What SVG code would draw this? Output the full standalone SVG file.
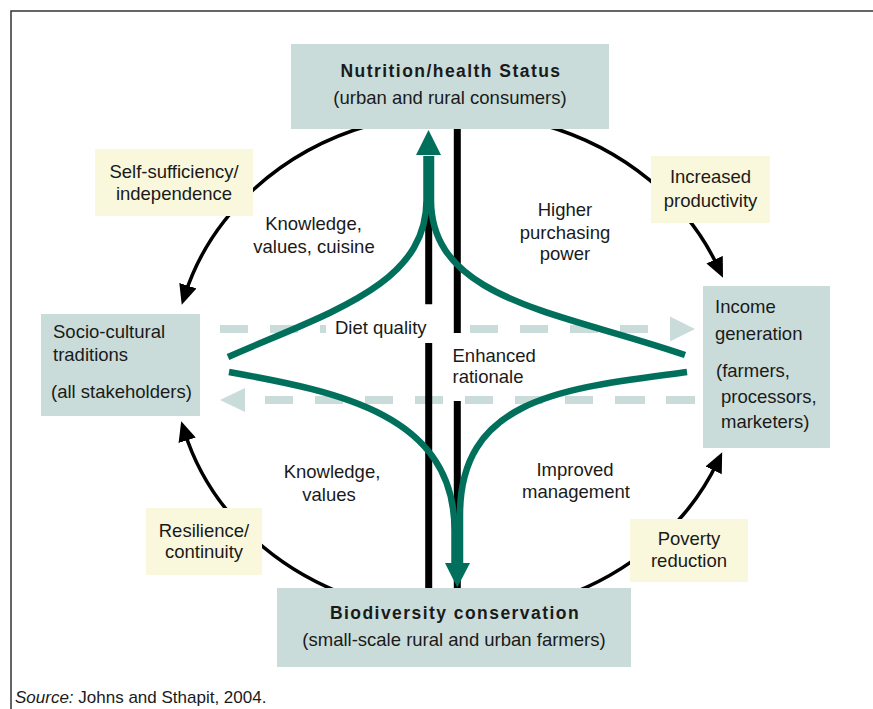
<svg xmlns="http://www.w3.org/2000/svg" width="873" height="709" viewBox="0 0 873 709">
  <style>
    .t { font-family: "Liberation Sans", Arial, Helvetica, sans-serif; font-size: 18.5px; fill: #1a1a1a; }
    .b { font-weight: bold; font-size: 17.5px; letter-spacing: 1.45px; }
    .m { text-anchor: middle; }
    .node { fill: #c9dcd9; }
    .note { fill: #f9f8dc; }
    .arc { fill: none; stroke: #000; stroke-width: 3.5; }
    .bar { fill: none; stroke: #000; stroke-width: 7; }
    .dash { fill: none; stroke: #c9dcd9; stroke-width: 8; }
    .dtri { fill: #c9dcd9; }
    .green { fill: none; stroke: #00705c; stroke-width: 6.5; }
    .ghead { fill: #00705c; }
  </style>
  <defs>
    <marker id="ah" markerUnits="userSpaceOnUse" markerWidth="20" markerHeight="18" refX="10" refY="9" orient="auto" viewBox="0 0 20 18">
      <path d="M0,0 L20,9 L0,18 z" fill="#000"/>
    </marker>
  </defs>

  <g id="frame">
    <path d="M11,709 V11 H873" fill="none" stroke="#333" stroke-width="1.5"/>
  </g>

  <g id="connectors">
    <!-- outer cycle arcs -->
    <path class="arc" d="M370.4,125 A283,251 0 0 0 184.8,295.2" marker-end="url(#ah)"/>
    <path class="arc" d="M543.6,125 A283,251 0 0 1 718.8,268.7" marker-end="url(#ah)"/>
    <path class="arc" d="M338.6,592 A283,251 0 0 1 184.2,430.7" marker-end="url(#ah)"/>
    <path class="arc" d="M575.4,592 A283,251 0 0 0 717.9,461.3" marker-end="url(#ah)"/>
    <!-- dashed horizontal flows -->
    <path class="dash" d="M220,329 H248 M270,329 H298 M320,329 H326 M470,329 H498 M520,329 H548 M570,329 H598 M620,329 H648"/>
    <polygon class="dtri" points="670,316.5 695,329 670,341.5"/>
    <path class="dash" d="M265,400 H293 M315,400 H343 M365,400 H393 M415,400 H443 M465,400 H493 M515,400 H543 M565,400 H593 M615,400 H645 M666,400 H695"/>
    <polygon class="dtri" points="245,388 220,400 245,412"/>
    <!-- black vertical bars -->
    <path class="bar" d="M428.7,170 V304.3 M428.7,343 V588"/>
    <path class="bar" d="M457.3,129 V333 M457.3,401 V588"/>
    <!-- green arrows -->
    <path class="green" d="M228,357 C330,312 426.5,285 426.5,200 V156"/>
    <path class="green" d="M685,355 C560,312 431,300 431,200 V156"/>
    <polygon class="ghead" points="416,155 441,155 428.5,130"/>
    <path class="green" d="M229,372 C340,392 454.5,415 454.5,530 V564"/>
    <path class="green" d="M687,372 C570,388 460,395 460,515 V564"/>
    <polygon class="ghead" points="445,563 470,563 457.3,587.5"/>
  </g>

  <g id="note-self-sufficiency">
    <rect class="note" x="95" y="149" width="158" height="67"/>
    <text class="t m" x="174" y="177.5">Self-sufficiency/</text>
    <text class="t m" x="174" y="199.5">independence</text>
  </g>
  <g id="note-increased-productivity">
    <rect class="note" x="651" y="156" width="119" height="67"/>
    <text class="t m" x="710.5" y="183">Increased</text>
    <text class="t m" x="710.5" y="206.5">productivity</text>
  </g>
  <g id="note-resilience">
    <rect class="note" x="146" y="508" width="116" height="67"/>
    <text class="t m" x="204" y="536.5">Resilience/</text>
    <text class="t m" x="204" y="557.5">continuity</text>
  </g>
  <g id="note-poverty">
    <rect class="note" x="630" y="519" width="118" height="63"/>
    <text class="t m" x="689" y="545">Poverty</text>
    <text class="t m" x="689" y="567">reduction</text>
  </g>

  <g id="node-nutrition">
    <rect class="node" x="291" y="44" width="318" height="85"/>
    <text class="t b m" x="451" y="77">Nutrition/health Status</text>
    <text class="t m" x="450" y="104">(urban and rural consumers)</text>
  </g>
  <g id="node-biodiversity">
    <rect class="node" x="277" y="588" width="354" height="79"/>
    <text class="t b m" x="455" y="619">Biodiversity conservation</text>
    <text class="t m" x="454" y="646">(small-scale rural and urban farmers)</text>
  </g>
  <g id="node-socio">
    <rect class="node" x="41" y="314" width="159" height="102"/>
    <text class="t" x="53" y="338">Socio-cultural</text>
    <text class="t" x="53" y="361">traditions</text>
    <text class="t" x="51" y="397.5">(all stakeholders)</text>
  </g>
  <g id="node-income">
    <rect class="node" x="703" y="286" width="127" height="162"/>
    <text class="t" x="715" y="313">Income</text>
    <text class="t" x="715" y="340">generation</text>
    <text class="t" x="716" y="377">(farmers,</text>
    <text class="t" x="721" y="403">processors,</text>
    <text class="t" x="721" y="428">marketers)</text>
  </g>

  <g id="labels">
    <text class="t m" x="313.5" y="230">Knowledge,</text>
    <text class="t m" x="314" y="252.5">values, cuisine</text>
    <text class="t m" x="565" y="216">Higher</text>
    <text class="t m" x="565" y="238.5">purchasing</text>
    <text class="t m" x="565" y="259.5">power</text>
    <text class="t" x="335" y="333.5">Diet quality</text>
    <text class="t" x="452.5" y="361.5">Enhanced</text>
    <text class="t" x="452.5" y="382.5">rationale</text>
    <text class="t m" x="332" y="478">Knowledge,</text>
    <text class="t m" x="329" y="501">values</text>
    <text class="t m" x="575" y="475.5">Improved</text>
    <text class="t m" x="576" y="498">management</text>
  </g>

  <g id="source">
    <text class="t" x="15" y="703" style="font-size:17px"><tspan font-style="italic">Source:</tspan> Johns and Sthapit, 2004.</text>
  </g>
</svg>
